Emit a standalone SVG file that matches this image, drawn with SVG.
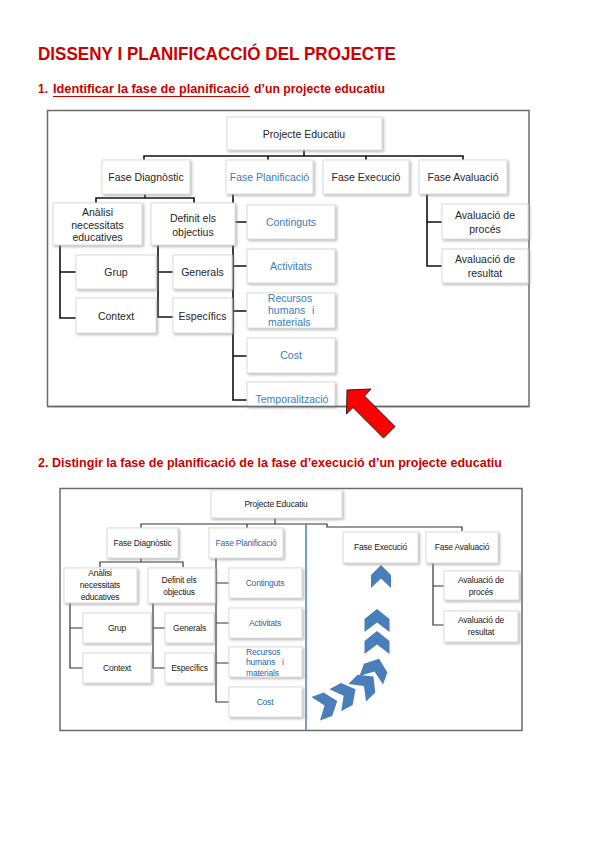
<svg xmlns="http://www.w3.org/2000/svg" width="603" height="848" viewBox="0 0 603 848">
<defs>
<filter id="sh" x="-10%" y="-10%" width="130%" height="140%"><feDropShadow dx="1.5" dy="1.5" stdDeviation="0.8" flood-color="#8c8c8c" flood-opacity="0.6"/></filter>
<path id="chev" d="M-12.5,-2 L0,-12 L12.5,-2 L12.5,11 L0,1.5 L-12.5,11 Z"/>
</defs>
<style>
.box{fill:#fff;stroke:#dcdcdc;stroke-width:1;filter:url(#sh)}
.frame{fill:#fff;stroke:#6b6b6b;stroke-width:1.5}
.c1{fill:none;stroke:#111;stroke-width:1.6}
.c2{fill:none;stroke:#333;stroke-width:1.2}
.t1{font-family:"Liberation Sans",Arial,sans-serif;font-size:10.5px;fill:#262626;text-anchor:middle}
.t1s{font-family:"Liberation Sans",Arial,sans-serif;font-size:10.5px;fill:#3a7dbf}
.b1{fill:#3a7dbf}
.t2{font-family:"Liberation Sans",Arial,sans-serif;font-size:8.5px;fill:#1a1a1a;text-anchor:middle;letter-spacing:-0.2px}
.t2s{font-family:"Liberation Sans",Arial,sans-serif;font-size:8.5px;fill:#2f66a8;letter-spacing:-0.2px}
.b2{fill:#2f66a8}
.h{font-family:"Liberation Sans",Arial,sans-serif;font-weight:bold;fill:#cc0000}
.chev{fill:#4a7ebb}
</style>
<rect width="603" height="848" fill="#fff"/>

<g id="headings">
<text class="h" x="38" y="60" font-size="18" textLength="358" lengthAdjust="spacingAndGlyphs">DISSENY I PLANIFICACCIÓ DEL PROJECTE</text>
<text class="h" x="38" y="93" font-size="13" textLength="10" lengthAdjust="spacingAndGlyphs">1.</text>
<text class="h" x="53" y="93" font-size="13" textLength="196" lengthAdjust="spacingAndGlyphs">Identificar la fase de planificació</text>
<text class="h" x="254" y="93" font-size="13" textLength="131" lengthAdjust="spacingAndGlyphs">d’un projecte educatiu</text>
<line x1="53" y1="96.5" x2="250" y2="96.5" stroke="#cc0000" stroke-width="1"/>
<text class="h" x="38" y="467" font-size="13" textLength="464" lengthAdjust="spacingAndGlyphs">2. Distingir la fase de planificació de la fase d’execució d’un projecte educatiu</text>
</g>

<!-- Diagram 1 -->
<rect class="frame" x="47.5" y="110.5" width="481.5" height="296"/>
<g id="connectors1" class="c1">
<path d="M304,150 V156 M144,160 V156 H463 V160 M268,156 V160 M366,156 V160"/>
<path d="M145,194 V198 M96,203 V198 H194 V203"/>
<path d="M60,245 V318 H76 M60,272 H76"/>
<path d="M158,245 V317 H173 M158,272 H173"/>
<path d="M233,194 V400 H247 M233,222 H247 M233,266 H247 M233,311 H247 M233,356 H247"/>
<path d="M427,194 V266 H442 M427,222 H442"/>
</g>
<g id="n1_projecte"><rect class="box" x="227" y="117" width="155" height="33"/><text class="t1" x="304" y="137.5">Projecte Educatiu</text></g>
<g id="n1_diagnostic"><rect class="box" x="102" y="160" width="88" height="34"/><text class="t1" x="146" y="181">Fase Diagnòstic</text></g>
<g id="n1_planificacio"><rect class="box" x="226" y="160" width="87" height="34"/><text class="t1 b1" x="269.5" y="181">Fase Planificació</text></g>
<g id="n1_execucio"><rect class="box" x="323" y="160" width="86" height="34"/><text class="t1" x="366" y="181">Fase Execució</text></g>
<g id="n1_avaluacio"><rect class="box" x="419" y="160" width="88" height="34"/><text class="t1" x="463" y="181">Fase Avaluació</text></g>
<g id="n1_analisi"><rect class="box" x="53" y="203" width="89" height="42"/><text class="t1" x="97.5" y="216">Anàlisi</text><text class="t1" x="97.5" y="228.5">necessitats</text><text class="t1" x="97.5" y="241">educatives</text></g>
<g id="n1_definit"><rect class="box" x="151" y="203" width="84" height="42"/><text class="t1" x="193" y="222">Definit els</text><text class="t1" x="193" y="236">objectius</text></g>
<g id="n1_grup"><rect class="box" x="76" y="255" width="80" height="34"/><text class="t1" x="116" y="276">Grup</text></g>
<g id="n1_context"><rect class="box" x="76" y="298" width="80" height="35"/><text class="t1" x="116" y="320">Context</text></g>
<g id="n1_generals"><rect class="box" x="173" y="255" width="59" height="34"/><text class="t1" x="202.5" y="276">Generals</text></g>
<g id="n1_especifics"><rect class="box" x="173" y="298" width="59" height="35"/><text class="t1" x="202.5" y="320">Específics</text></g>
<g id="n1_continguts"><rect class="box" x="247" y="205" width="88" height="34"/><text class="t1 b1" x="291" y="226">Continguts</text></g>
<g id="n1_activitats"><rect class="box" x="247" y="249" width="88" height="34"/><text class="t1 b1" x="291" y="270">Activitats</text></g>
<g id="n1_recursos"><rect class="box" x="247" y="293" width="88" height="35"/><text class="t1 b1" x="290" y="302">Recursos</text><text class="t1s" y="314"><tspan x="268">humans</tspan><tspan x="312">i</tspan></text><text class="t1s" x="268" y="326">materials</text></g>
<g id="n1_cost"><rect class="box" x="247" y="338" width="88" height="35"/><text class="t1 b1" x="291" y="359">Cost</text></g>
<g id="n1_temporalitzacio"><rect class="box" x="247" y="382" width="88" height="24"/><text class="t1 b1" x="292" y="403">Temporalització</text></g>
<g id="n1_proces"><rect class="box" x="442" y="204" width="86" height="35"/><text class="t1" x="485" y="219">Avaluació de</text><text class="t1" x="485" y="233">procés</text></g>
<g id="n1_resultat"><rect class="box" x="442" y="249" width="86" height="34"/><text class="t1" x="485" y="263">Avaluació de</text><text class="t1" x="485" y="277">resultat</text></g>
<line x1="47.5" y1="406.5" x2="529" y2="406.5" stroke="#6b6b6b" stroke-width="1.5"/>

<polygon id="red_arrow" points="347,390 371,389 364.5,396 395,426.5 383.5,438 353,407.5 346.5,414" fill="#ff0000" stroke="#222" stroke-width="1" stroke-linejoin="round"/>

<!-- Diagram 2 -->
<rect class="frame" x="60" y="488.5" width="462" height="242" stroke="#555"/>
<g id="connectors2" class="c2">
<path d="M275,518 V524 M141,528 V524 H327 V527 H462 V531 M247,524 V528"/>
<path d="M141,558 V562 M100,567 V562 H183 V567"/>
<path d="M70,603 V668 H83 M70,628 H83"/>
<path d="M153,603 V668 H165 M153,628 H165"/>
<path d="M216,558 V702 H229 M216,583 H229 M216,623 H229 M216,663 H229"/>
<path d="M433,563 V625 H444 M433,586 H444"/>
<path d="M306,524 V730" stroke="#4a7ebb" stroke-width="1.5"/>
</g>
<g id="n2_projecte"><rect class="box" x="211" y="490" width="131" height="28"/><text class="t2" x="276" y="507">Projecte Educatiu</text></g>
<g id="n2_diagnostic"><rect class="box" x="107" y="528" width="71" height="30"/><text class="t2" x="142.5" y="546">Fase Diagnòstic</text></g>
<g id="n2_planificacio"><rect class="box" x="209" y="528" width="74" height="30"/><text class="t2 b2" x="246" y="546">Fase Planificació</text></g>
<g id="n2_execucio"><rect class="box" x="343" y="532" width="75" height="31"/><text class="t2" x="380.5" y="550">Fase Execució</text></g>
<g id="n2_avaluacio"><rect class="box" x="426" y="532" width="72" height="31"/><text class="t2" x="462" y="550">Fase Avaluació</text></g>
<g id="n2_analisi"><rect class="box" x="64" y="568" width="73" height="35"/><text class="t2" x="100" y="576">Anàlisi</text><text class="t2" x="100" y="588">necessitats</text><text class="t2" x="100" y="600">educatives</text></g>
<g id="n2_definit"><rect class="box" x="148" y="568" width="67" height="35"/><text class="t2" x="179" y="583">Definit els</text><text class="t2" x="179" y="595">objectius</text></g>
<g id="n2_grup"><rect class="box" x="83" y="613" width="68" height="30"/><text class="t2" x="117" y="631">Grup</text></g>
<g id="n2_context"><rect class="box" x="83" y="653" width="68" height="30"/><text class="t2" x="117" y="671">Context</text></g>
<g id="n2_generals"><rect class="box" x="165" y="613" width="49" height="30"/><text class="t2" x="189.5" y="631">Generals</text></g>
<g id="n2_especifics"><rect class="box" x="165" y="653" width="49" height="30"/><text class="t2" x="189.5" y="671">Específics</text></g>
<g id="n2_continguts"><rect class="box" x="229" y="568" width="73" height="30"/><text class="t2 b2" x="265" y="586">Continguts</text></g>
<g id="n2_activitats"><rect class="box" x="229" y="608" width="73" height="30"/><text class="t2 b2" x="265" y="626">Activitats</text></g>
<g id="n2_recursos"><rect class="box" x="229" y="647" width="73" height="30"/><text class="t2s" x="246" y="655">Recursos</text><text class="t2s" y="665"><tspan x="246">humans</tspan><tspan x="282">i</tspan></text><text class="t2s" x="246" y="676">materials</text></g>
<g id="n2_cost"><rect class="box" x="229" y="687" width="73" height="30"/><text class="t2 b2" x="265" y="705">Cost</text></g>
<g id="n2_proces"><rect class="box" x="444" y="571" width="75" height="29"/><text class="t2" x="481" y="583">Avaluació de</text><text class="t2" x="481" y="595">procés</text></g>
<g id="n2_resultat"><rect class="box" x="444" y="611" width="74" height="31"/><text class="t2" x="481" y="623">Avaluació de</text><text class="t2" x="481" y="635">resultat</text></g>

<g id="chevrons" class="chev">
<use href="#chev" transform="translate(381,577) scale(0.8,1)"/>
<use href="#chev" transform="translate(377,621)"/>
<use href="#chev" transform="translate(377,643)"/>
<use href="#chev" transform="translate(375,670) rotate(20)"/>
<use href="#chev" transform="translate(365,685) rotate(45)"/>
<use href="#chev" transform="translate(345,695) rotate(62)"/>
<use href="#chev" transform="translate(326,705) rotate(70)"/>
</g>
</svg>
